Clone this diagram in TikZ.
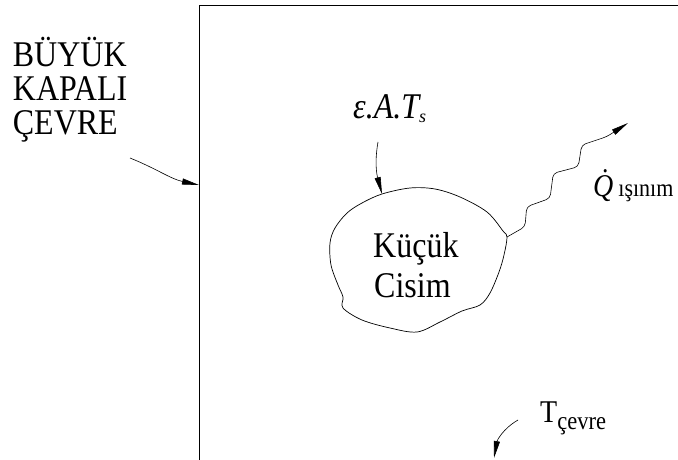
\documentclass[tikz,border=0pt]{standalone}
\usepackage{fontspec}
\usepackage{graphicx}
\setmainfont{Liberation Serif}
\usetikzlibrary{arrows.meta}
\newcommand\vstretch[1]{\scalebox{1}[1.13]{#1}}
\begin{document}
\begin{tikzpicture}[x=1pt,y=1pt,
  frame/.style={line width=1pt},
  outline/.style={line width=0.7pt},
  tip/.style={-{Stealth[length=17pt,width=6pt,inset=0pt]}},
  arr/.style={line width=0.6pt,tip},
  wave/.style={line width=0.6pt,rounded corners=4pt,tip},
  lbl/.style={inner sep=0pt,anchor=base west},
  big/.style={font=\fontsize{32}{32}\selectfont},
]
\useasboundingbox (0,0) rectangle (678,459);
% enclosure
\coordinate (fbl) at (199,-2);
\coordinate (ftl) at (199,453);
\coordinate (ftr) at (680,453);
\coordinate (fpt) at (199,274);
\draw[frame] (fbl) -- (ftl) -- (ftr);
% small body
\coordinate (blobtop) at (382,265);
\coordinate (blobright) at (507,222);
\draw[outline] plot[smooth cycle, tension=0.55] coordinates {
  (382,265) (410,271) (435,270) (460,262) (487,247) (503,228) (507,222)
  (504,204) (499,187) (490,166) (480,154) (462,148) (440,137) (417,127)
  (390,131) (362,139) (343,151) (343,162) (338,174) (331,194) (330,216)
  (335,231) (347,246) (362,256)};
% labels
\node[lbl,big] (b1) at (12.7,392) {\vstretch{BÜYÜK}};
\node[lbl,big] (b2) at (12.7,358) {\vstretch{KAPALI}};
\node[lbl,big] (b3) at (12.7,324) {\vstretch{ÇEVRE}};
\node[lbl,big] (k1) at (373,202) {\vstretch{Küçük}};
\node[lbl,big] (k2) at (374,162) {\vstretch{Cisim}};
\node[lbl,font=\fontsize{32}{32}\selectfont\itshape] (eps) at (353,341)
  {\vstretch{ε.A.T}\raisebox{-5pt}{\fontsize{18}{18}\selectfont s}};
\node[lbl] (q) at (593,263)
  {\fontsize{28}{28}\selectfont\itshape\vstretch{\.{Q}}\hspace{5pt}\upshape\fontsize{22}{22}\selectfont\vstretch{ışınım}};
\node[lbl] (tc) at (540,36.7)
  {\fontsize{28}{28}\selectfont\vstretch{T}\raisebox{-6.7pt}{\fontsize{22.5}{22.5}\selectfont\vstretch{çevre}}};
% arrows
\coordinate (a1s) at (130,301);
\draw[arr] (a1s) to[out=-22,in=168] (fpt);
\coordinate (a2s) at (378,317);
\draw[arr] (a2s) to[out=-100,in=105] (blobtop);
\coordinate (a3s) at (518,39);
\coordinate (a3e) at (494,1);
\draw[arr] (a3s) to[out=-150,in=80] (a3e);
% radiation
\coordinate (wtip) at (628,336);
\draw[wave] (blobright) -- (525,232.3) -- (526.7,252.3) -- (550,260.7)
  -- (553.3,285.7) -- (578.3,292.3) -- (581.7,314) -- (606.7,322.3) -- (wtip);
\end{tikzpicture}
\end{document}
